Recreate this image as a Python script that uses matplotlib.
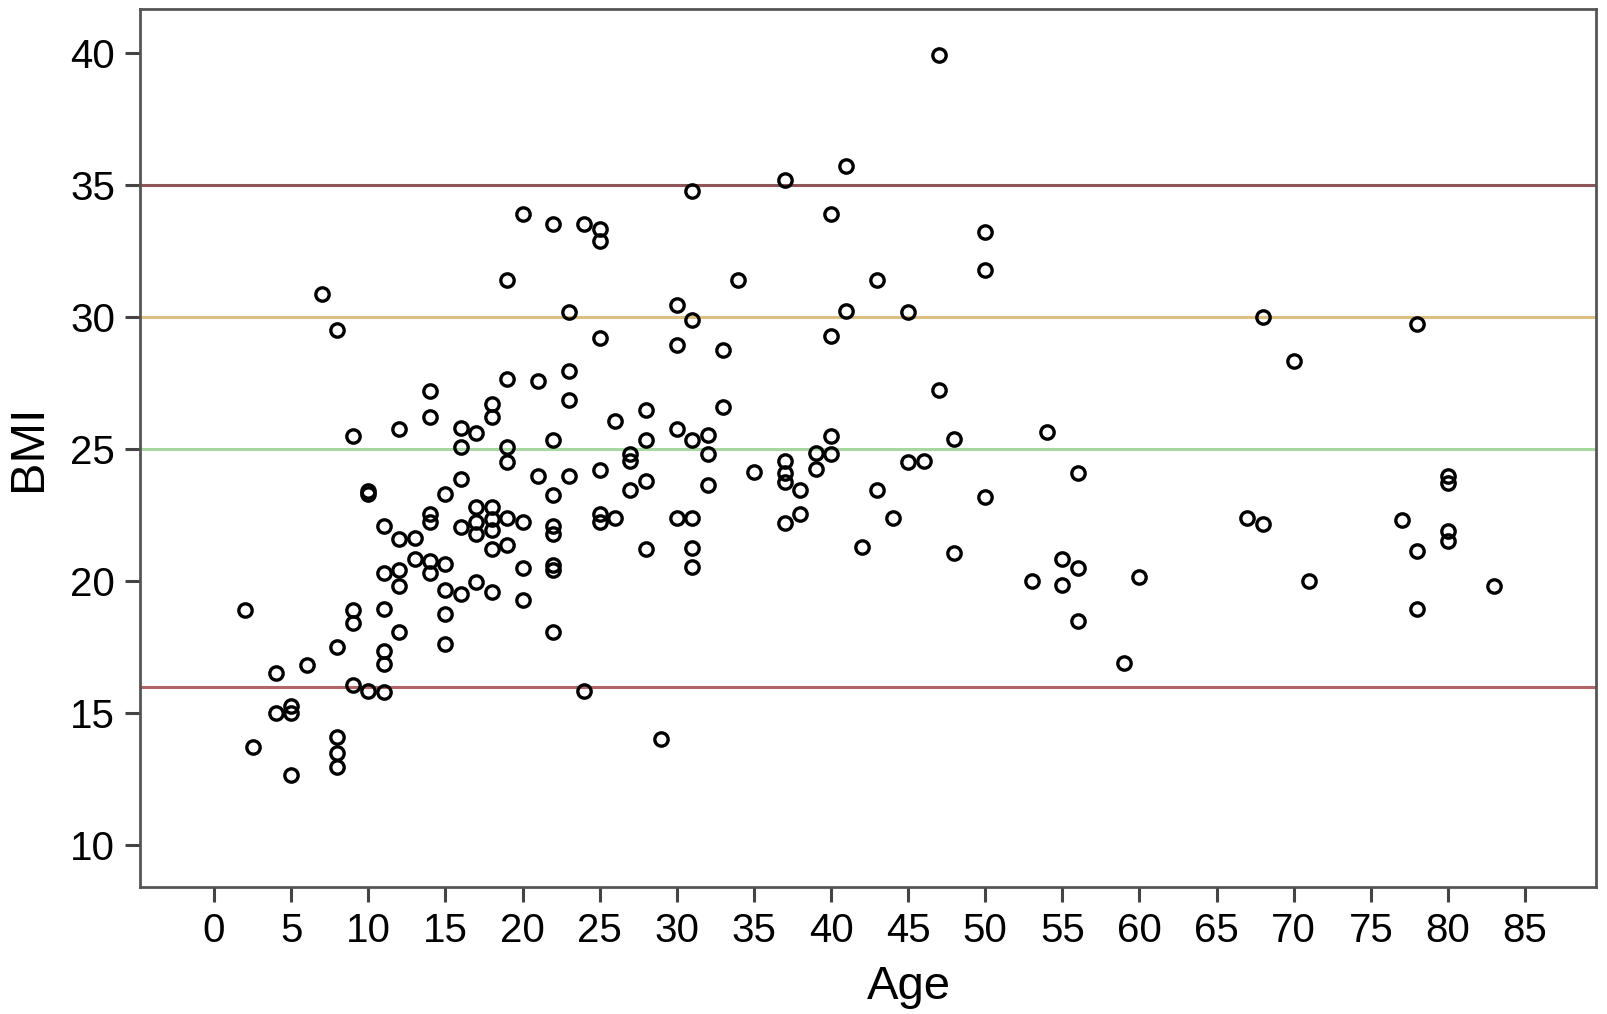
import matplotlib
matplotlib.use('Agg')
import matplotlib.pyplot as plt

plt.rcParams['font.family'] = ['Liberation Sans', 'DejaVu Sans']

# eta e BMI
age = [2, 2.5, 4, 4, 5, 5, 5, 6, 7, 8, 8, 8, 8, 8,
       9, 9, 9, 9, 10, 10, 10, 11, 11, 11, 11, 11, 11,
       12, 12, 12, 12, 12, 13, 13, 14, 14, 14, 14, 14, 14,
       15, 15, 15, 15, 15, 16, 16, 16, 16, 16, 17, 17, 17, 17, 17,
       18, 18, 18, 18, 18, 18, 18, 19, 19, 19, 19, 19, 19,
       20, 20, 20, 20, 21, 21, 22, 22, 22, 22, 22, 22, 22, 22,
       23, 23, 23, 23, 24, 24, 25, 25, 25, 25, 25, 25, 26, 26,
       27, 27, 27, 28, 28, 28, 28, 29, 30, 30, 30, 30,
       31, 31, 31, 31, 31, 31, 32, 32, 32, 33, 33, 34, 35,
       37, 37, 37, 37, 37, 38, 38, 39, 39, 40, 40, 40, 40, 41, 41,
       42, 43, 43, 44, 45, 45, 46, 47, 47, 48, 48, 50, 50, 50,
       53, 54, 55, 55, 56, 56, 56, 59, 60, 67, 68, 68, 70, 71,
       77, 78, 78, 78, 80, 80, 80, 80, 83]
bmi = [18.9, 13.7, 16.5, 15.0, 15.25, 15.0, 12.65, 16.8, 30.9, 29.5, 17.5, 14.1, 13.5, 12.95,
       25.5, 18.9, 18.4, 16.05, 23.4, 23.3, 15.85, 22.1, 20.3, 18.95, 17.35, 16.85, 15.8,
       25.75, 21.6, 20.4, 19.8, 18.05, 21.65, 20.85, 27.2, 26.2, 22.55, 22.25, 20.75, 20.3,
       23.3, 20.65, 19.65, 18.75, 17.6, 25.8, 25.1, 23.85, 22.05, 19.5, 25.6, 22.8, 22.25, 21.8, 19.95,
       26.7, 26.2, 22.8, 22.35, 21.95, 21.2, 19.6, 31.4, 27.65, 25.1, 24.5, 22.4, 21.35,
       33.9, 22.25, 20.5, 19.3, 27.6, 24.0, 33.55, 25.35, 23.25, 22.1, 21.8, 20.6, 20.4, 18.05,
       30.2, 27.95, 26.85, 24.0, 33.55, 15.85, 33.35, 32.9, 29.2, 24.2, 22.55, 22.25, 26.05, 22.4,
       24.8, 24.55, 23.45, 26.5, 25.35, 23.8, 21.2, 14.0, 30.45, 28.95, 25.75, 22.4,
       34.8, 29.9, 25.35, 22.4, 21.25, 20.55, 25.55, 24.8, 23.65, 28.75, 26.6, 31.4, 24.15,
       35.2, 24.55, 24.1, 23.75, 22.2, 23.45, 22.55, 24.85, 24.25, 33.9, 29.3, 25.5, 24.8, 35.75, 30.25,
       21.3, 31.4, 23.45, 22.4, 30.2, 24.5, 24.55, 39.95, 27.25, 25.4, 21.05, 33.25, 31.8, 23.2,
       20.0, 25.65, 20.85, 19.85, 24.1, 20.5, 18.5, 16.9, 20.15, 22.4, 30.0, 22.15, 28.35, 20.0,
       22.3, 29.75, 21.15, 18.95, 24.0, 23.7, 21.9, 21.5, 19.8]

# soglie orizzontali
soglie = [35, 30, 25, 16]
colori_soglie = ['#8e5656', '#dcc080', '#a9d6a2', '#b06666']

fig = plt.figure(figsize=(16.07, 10.14), dpi=100)
ax = fig.add_axes([0.0871, 0.1252, 0.9061, 0.8658])

for s, c in zip(soglie, colori_soglie):
    ax.axhline(s, color=c, linewidth=2.2, zorder=1)

ax.plot(age, bmi, linestyle='none', marker='o', markersize=9.6,
        markerfacecolor='none', markeredgecolor='black', markeredgewidth=2.4, zorder=3)

ax.set_xlim(-4.8, 89.6)
ax.set_ylim(8.4, 41.68)
ax.set_xticks(range(0, 90, 5))
ax.set_yticks(range(10, 45, 5))

for sp in ax.spines.values():
    sp.set_color('#555555')
    sp.set_linewidth(2)

ax.tick_params(axis='both', length=11, width=2.2, color='#444444', pad=7, labelsize=29)

ax.set_xlabel('Age', fontsize=34, x=0.528, labelpad=11)
ax.set_ylabel('BMI', fontsize=35, labelpad=14)

fig.savefig('out.png', dpi=100)
